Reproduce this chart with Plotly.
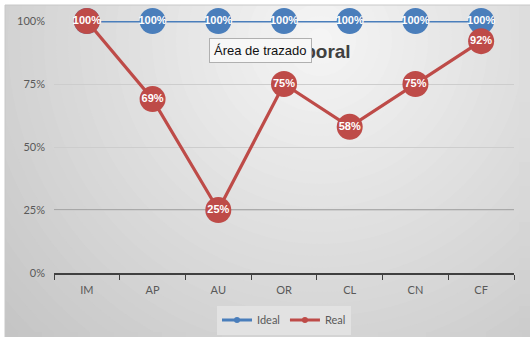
import math
import plotly.graph_objects as go

categories = ["IM", "AP", "AU", "OR", "CL", "CN", "CF"]
ideal = [1.00, 1.00, 1.00, 1.00, 1.00, 1.00, 1.00]
real = [1.00, 0.69, 0.25, 0.75, 0.58, 0.75, 0.92]
y_ticks = [0, 0.25, 0.5, 0.75, 1.0]
series_names = ["Ideal", "Real"]
series_colors = ["#4a7ebb", "#be4b48"]

W, H = 530, 337
ML, MR, MT, MB = 54, 16, 21, 64
PW, PH = W - ML - MR, H - MT - MB

def px(x):
    return (x - ML) / PW

def py(y):
    return (H - MB - y) / PH

# background gradient parameters
cx, cy = 320, 40
N = 40
Rmax = 480

def grad_col(i):
    c = int(0xc0 + (0xf5 - 0xc0) * i / (N - 1))
    return f"rgb({c},{c},{c})"

def grad_at(x, y):
    d = math.hypot(x - cx, y - cy)
    i = max(0, min(N - 1, int(N * (1 - d / Rmax))))
    return grad_col(i)

shapes = []
for i in range(N):
    r = Rmax * (1 - i / N)
    shapes.append(dict(type="circle", xref="paper", yref="paper",
                       x0=px(cx - r), x1=px(cx + r), y0=py(cy + r), y1=py(cy - r),
                       fillcolor=grad_col(i), line=dict(width=0), layer="below"))
shapes.append(dict(type="rect", xref="paper", yref="paper", x0=px(-5), x1=px(5), y0=py(H + 5), y1=py(-5),
                   fillcolor="white", line=dict(width=0), layer="below"))
shapes.append(dict(type="rect", xref="paper", yref="paper", x0=px(-5), x1=px(W + 5), y0=py(5), y1=py(-5),
                   fillcolor="white", line=dict(width=0), layer="below"))
shapes.append(dict(type="line", xref="paper", yref="paper", x0=px(5), x1=px(5), y0=py(H + 5), y1=py(5),
                   line=dict(color="#c8c8c8", width=1), layer="below"))
shapes.append(dict(type="line", xref="paper", yref="paper", x0=px(5), x1=px(W + 5), y0=py(5), y1=py(5),
                   line=dict(color="#c8c8c8", width=1), layer="below"))
shapes.append(dict(type="line", xref="paper", yref="y", x0=0, x1=1, y0=y_ticks[1], y1=y_ticks[1],
                   line=dict(color="#9a9a9a", width=1.5), layer="below"))
# fill the right and bottom edge strips with the gradient (drawn above, no content there)
seg = 12
for y0 in range(6, H + 12, seg):
    shapes.append(dict(type="rect", xref="paper", yref="paper",
                       x0=px(519), x1=px(W + 10), y0=py(y0 + seg), y1=py(y0),
                       fillcolor=grad_at(526, y0 + seg / 2), line=dict(width=0), layer="above"))
for x0 in range(6, 519, seg):
    shapes.append(dict(type="rect", xref="paper", yref="paper",
                       x0=px(x0), x1=px(x0 + seg), y0=py(H + 10), y1=py(332),
                       fillcolor=grad_at(x0 + seg / 2, 335), line=dict(width=0), layer="above"))

label_font = dict(color="white", size=11, family="Liberation Sans", weight="bold")

fig = go.Figure()
for name, vals, col in zip(series_names, [ideal, real], series_colors):
    fig.add_trace(go.Scatter(
        x=categories, y=vals, name=name, mode="lines+markers+text",
        line=dict(color=col, width=3.2),
        marker=dict(color=col, size=26, line=dict(width=0)),
        text=[f"{v:.0%}" for v in vals], textposition="middle center",
        textfont=label_font, cliponaxis=False, showlegend=False,
    ))
for name, col in zip(series_names, series_colors):
    fig.add_trace(go.Scatter(
        x=[None], y=[None], name=name, mode="lines+markers",
        line=dict(color=col, width=3), marker=dict(color=col, size=6),
        showlegend=True,
    ))

fig.update_layout(
    width=W, height=H,
    margin=dict(l=ML, r=MR, t=MT, b=MB, autoexpand=False),
    paper_bgcolor="#c8c8c8", plot_bgcolor="rgba(0,0,0,0)",
    font=dict(family="Lato, Open Sans, Liberation Sans", color="#595959", size=11),
    shapes=shapes,
    legend=dict(orientation="h", x=0.5, xanchor="center", y=py(320), yanchor="middle",
                bgcolor="#e2e2e2", font=dict(size=11, color="#595959"),
                itemwidth=30, tracegroupgap=0),
    annotations=[
        dict(text="<b>Clima Laboral</b>", xref="paper", yref="paper",
             x=px(288), y=py(51), xanchor="center", yanchor="middle", showarrow=False,
             font=dict(size=19, color="#404040", family="Liberation Sans")),
        dict(text="Área de trazado", xref="paper", yref="paper",
             x=px(260), y=py(50), xanchor="center", yanchor="middle", showarrow=False,
             font=dict(size=13, color="#111111", family="Liberation Sans"),
             bgcolor="#f7f7f7", bordercolor="#b0b0b0", borderwidth=1, borderpad=4),
    ],
)
fig.update_xaxes(
    type="category", range=[-0.5, 6.5], showgrid=False,
    showline=True, linecolor="#404040", linewidth=1.5,
    ticks="outside", tickson="boundaries", ticklen=5, tickcolor="#404040",
    ticklabelstandoff=6, tickfont=dict(size=11, color="#595959"),
)
fig.update_yaxes(
    range=[0, 1], tickvals=y_ticks, tickformat=".0%",
    showgrid=True, gridcolor="#cdcdcd", gridwidth=1, zeroline=False,
    showline=False, ticks="", ticklabelstandoff=8,
    tickfont=dict(size=11, color="#595959"),
)

fig.write_html("out.html")
